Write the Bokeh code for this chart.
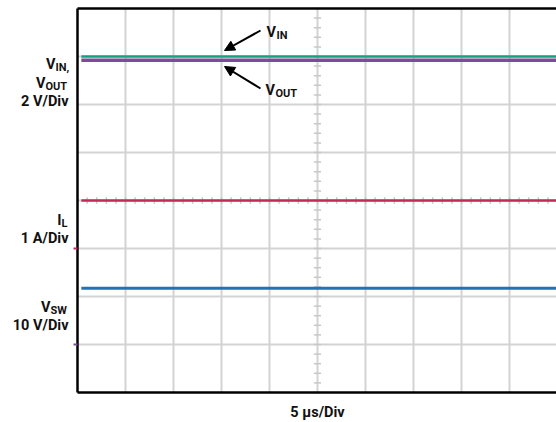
import numpy as np
from bokeh.plotting import figure
from bokeh.models import Label, Arrow, NormalHead, Range1d
from bokeh.embed import file_html
from bokeh.resources import INLINE

# ---- data (scope screen, in divisions; 5 us/Div horizontally) ----
trace_t = [0.08, 10.0]          # time extent of captured traces (div)
vin_level = 3.0                 # V_IN trace position (div from centre)
vout_level = 2.92               # V_OUT trace position
il_level = 0.0                  # I_L trace position
vsw_level = -1.83               # V_SW trace position
il_ground = -1.0                # ground marker of I_L channel
vout_ground = -3.0              # ground marker of V_OUT channel
x_divs = list(range(1, 10))     # vertical graticule lines
y_divs = list(range(-3, 4))     # horizontal graticule lines

# ---- layout ----
W, H = 556, 422
LEFT, TOP = 77, 8
DIV = 48
CY = TOP + 4 * DIV
FONT = "Roboto"


def px_x(px):
    return (px - LEFT) / DIV


def px_y(py):
    return (CY - py) / DIV


XR = px_x(W)
p = figure(width=W, height=H, output_backend="svg", toolbar_location=None,
           x_range=Range1d(px_x(0), XR), y_range=Range1d(px_y(H), px_y(0)),
           min_border=0, x_axis_location=None, y_axis_location=None)
p.outline_line_color = None
p.background_fill_color = "white"
p.border_fill_color = "white"
p.grid.visible = False

GRID_C = "#d3d3d3"
p.segment(x0=x_divs, x1=x_divs, y0=-4, y1=4, line_color=GRID_C, line_width=2)
p.segment(x0=0, x1=XR, y0=y_divs, y1=y_divs, line_color=GRID_C, line_width=2)

# graticule fine ticks on centre lines
fy = np.round(np.arange(-4, 4.0001, 0.2), 3)
p.segment(x0=5 - 0.075, x1=5 + 0.075, y0=fy, y1=fy,
          line_color="#c8c8c8", line_width=1.5)
fx = np.round(np.arange(0, 10.0001, 0.2), 3)
p.segment(x0=fx, x1=fx, y0=-0.07, y1=0.07,
          line_color="#c8c8c8", line_width=1.5)

# frame border (left, top, bottom)
p.segment(x0=[0, 0, 0], x1=[0, XR, XR], y0=[-4, 4, -4], y1=[4, 4, -4],
          line_color="black", line_width=2.5)

# ground markers
p.segment(x0=-4 / DIV, x1=0, y0=[il_ground, vout_ground],
          y1=[il_ground, vout_ground], line_color=["#c42a55", "#7e4aa0"],
          line_width=2)

# traces
p.line(trace_t, [vsw_level] * 2, line_color="#1f73ba", line_width=3)
p.line(trace_t, [il_level] * 2, line_color="#c42a55", line_width=2.5)
p.line(trace_t, [vout_level] * 2, line_color="#7e4aa0", line_width=3.5)
p.line(trace_t, [vin_level] * 2, line_color="#14a37b", line_width=2.5)


def lab(x, y, text, size="14.5px", align="left", color="#111111",
        baseline="alphabetic"):
    p.add_layout(Label(x=x, y=y, text=text, text_font=FONT,
                       text_font_style="bold", text_font_size=size,
                       text_align=align, text_baseline=baseline,
                       text_color=color))


SUB = "11px"
# left channel labels
lab(px_x(55), px_y(64), "V", align="right")
lab(px_x(55), px_y(67), "IN,", size=SUB)
lab(px_x(45), px_y(83), "V", align="right")
lab(px_x(45), px_y(86), "OUT", size=SUB)
lab(px_x(68), px_y(101), "2 V/Div", align="right")

lab(px_x(61), px_y(220), "I", align="right")
lab(px_x(61), px_y(223), "L", size=SUB)
lab(px_x(68), px_y(238), "1 A/Div", align="right")

lab(px_x(50), px_y(307), "V", align="right")
lab(px_x(50), px_y(310), "SW", size=SUB)
lab(px_x(68), px_y(325), "10 V/Div", align="right")

# bottom label
lab(px_x(317), px_y(412), "5 \u00b5s/Div", align="center")

# arrow annotations
lab(px_x(266), px_y(32), "V")
lab(px_x(276), px_y(35), "IN", size=SUB)
lab(px_x(265), px_y(90), "V")
lab(px_x(275), px_y(93), "OUT", size=SUB)

for (tx, ty, hx, hy) in [(260, 30, 224, 50), (260, 88, 224, 66)]:
    p.add_layout(Arrow(x_start=px_x(tx), y_start=px_y(ty),
                       x_end=px_x(hx), y_end=px_y(hy),
                       line_color="black", line_width=2,
                       end=NormalHead(size=10, fill_color="black",
                                      line_color="black")))

open("out.html", "w").write(file_html(p, INLINE))
